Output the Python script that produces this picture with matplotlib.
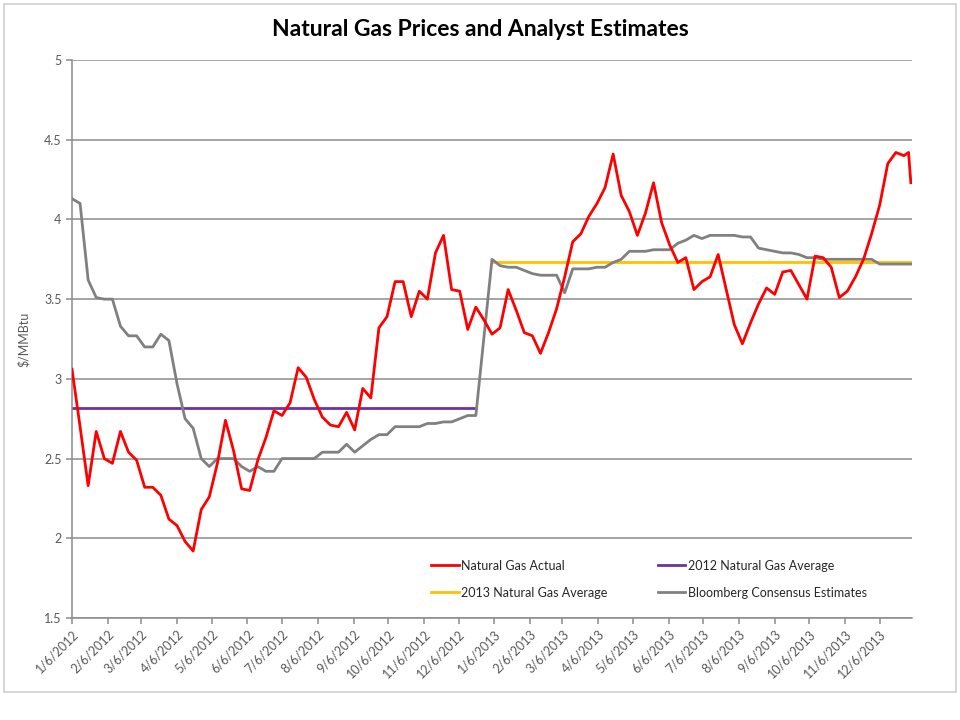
import matplotlib
matplotlib.use("Agg")
import matplotlib.pyplot as plt
import matplotlib.patches as patches
import pandas as pd

# weekly prices, 1/6/2012 .. 12/27/2013, plus the last two daily points
actual = [3.06, 2.70, 2.33, 2.67, 2.50, 2.47, 2.67, 2.54, 2.49, 2.32,
          2.32, 2.27, 2.12, 2.08, 1.98, 1.92, 2.18, 2.26, 2.47, 2.74,
          2.55, 2.31, 2.30, 2.49, 2.63, 2.80, 2.77, 2.85, 3.07, 3.01,
          2.87, 2.76, 2.71, 2.70, 2.79, 2.68, 2.94, 2.88, 3.32, 3.39,
          3.61, 3.61, 3.39, 3.55, 3.50, 3.79, 3.90, 3.56, 3.55, 3.31,
          3.45, 3.37, 3.28, 3.32, 3.56, 3.43, 3.29, 3.27, 3.16, 3.29,
          3.44, 3.64, 3.86, 3.91, 4.02, 4.10, 4.20, 4.41, 4.15, 4.05,
          3.90, 4.04, 4.23, 3.98, 3.84, 3.73, 3.76, 3.56, 3.61, 3.64,
          3.78, 3.56, 3.34, 3.22, 3.35, 3.47, 3.57, 3.53, 3.67, 3.68,
          3.59, 3.50, 3.77, 3.76, 3.70, 3.51, 3.55, 3.64, 3.75, 3.91,
          4.09, 4.35, 4.42, 4.40, 4.42, 4.23]

# consensus estimates (no value for the week of 12/28/2012)
consensus = [4.13, 4.10, 3.62, 3.51, 3.50, 3.50, 3.33, 3.27, 3.27, 3.20,
             3.20, 3.28, 3.24, 2.97, 2.75, 2.69, 2.50, 2.45, 2.50, 2.50,
             2.50, 2.45, 2.42, 2.45, 2.42, 2.42, 2.50, 2.50, 2.50, 2.50,
             2.50, 2.54, 2.54, 2.54, 2.59, 2.54, 2.58, 2.62, 2.65, 2.65,
             2.70, 2.70, 2.70, 2.70, 2.72, 2.72, 2.73, 2.73, 2.75, 2.77,
             2.77, None, 3.75, 3.71, 3.70, 3.70, 3.68, 3.66, 3.65, 3.65,
             3.65, 3.54, 3.69, 3.69, 3.69, 3.70, 3.70, 3.73, 3.75, 3.80,
             3.80, 3.80, 3.81, 3.81, 3.81, 3.85, 3.87, 3.90, 3.88, 3.90,
             3.90, 3.90, 3.90, 3.89, 3.89, 3.82, 3.81, 3.80, 3.79, 3.79,
             3.78, 3.76, 3.76, 3.75, 3.75, 3.75, 3.75, 3.75, 3.75, 3.75,
             3.72, 3.72, 3.72, 3.72, 3.72, 3.72]

avg_2012 = 2.82
avg_2013 = 3.73

dates = list(pd.date_range("2012-01-06", periods=104, freq="7D")) + \
        [pd.Timestamp("2013-12-31"), pd.Timestamp("2014-01-02")]

tick_dates = pd.date_range("2012-01-01", periods=24, freq="MS") + pd.Timedelta(days=5)
tick_labels = [f"{d.month}/{d.day}/{d.year}" for d in tick_dates]

plt.rcParams["font.family"] = ["Lato", "DejaVu Sans"]

txt = "#595959"
grid = "#8c8c8c"

fig = plt.figure(figsize=(9.6, 7.2), dpi=100)
fig.patches.append(patches.Rectangle((4 / 960, 28 / 720), 952 / 960, 688 / 720,
                                     transform=fig.transFigure, fill=False,
                                     edgecolor="#d0d0d0", linewidth=1.2))
ax = fig.add_axes([72 / 960, 1 - 618 / 720, 840 / 960, 558 / 720])

ax.plot(dates, actual, color="#ff0000", lw=2.0, label="Natural Gas Actual", zorder=4)

y_est = [v for v in consensus if v is not None]
d_est = [d for d, v in zip(dates, consensus) if v is not None]
end_2012 = dates[50]
start_2013 = dates[52]
ax.plot([dates[0], end_2012], [avg_2012, avg_2012], color="#7030a0", lw=2.0,
        label="2012 Natural Gas Average", zorder=2)
ax.plot([start_2013, dates[-1]], [avg_2013, avg_2013], color="#ffc000", lw=2.0,
        label="2013 Natural Gas Average", zorder=2)
ax.plot(d_est, y_est, color="#808080", lw=2.0,
        label="Bloomberg Consensus Estimates", zorder=3)

ax.set_ylim(1.5, 5)
ax.set_yticks([1.5, 2, 2.5, 3, 3.5, 4, 4.5, 5])
ax.set_yticklabels(["1.5", "2", "2.5", "3", "3.5", "4", "4.5", "5"])
ax.set_xlim(pd.Timestamp("2012-01-06"), pd.Timestamp("2014-01-03"))
ax.set_xticks(tick_dates)
ax.set_xticklabels(tick_labels, rotation=45, ha="right", rotation_mode="anchor")

ax.yaxis.grid(True, color=grid, lw=1.1)
ax.set_axisbelow(True)
for s in ["top", "right"]:
    ax.spines[s].set_visible(False)
for s in ["left", "bottom"]:
    ax.spines[s].set_color(grid)
    ax.spines[s].set_linewidth(1.1)
ax.tick_params(axis="both", colors=grid, length=4, width=1.1, labelsize=9,
               labelcolor=txt)
ax.tick_params(axis="x", pad=3)

ax.set_ylabel("$/MMBtu", color=txt, fontsize=9)
ax.yaxis.set_label_coords(-42 / 840, 0.5)

fig.text(0.5, 1 - 30 / 720, "Natural Gas Prices and Analyst Estimates",
         ha="center", va="center", fontsize=16.5, fontweight="bold",
         color="#000000")

h, l = ax.get_legend_handles_labels()
order = [0, 2, 1, 3]
ax.legend([h[i] for i in order], [l[i] for i in order], ncol=2, frameon=False,
          loc="lower left", bbox_to_anchor=(348 / 840, 8 / 558),
          fontsize=9, handlelength=2.2, handletextpad=0.2,
          columnspacing=4.0, labelspacing=1.2, labelcolor="#262626")

fig.savefig("out.png", dpi=100)
